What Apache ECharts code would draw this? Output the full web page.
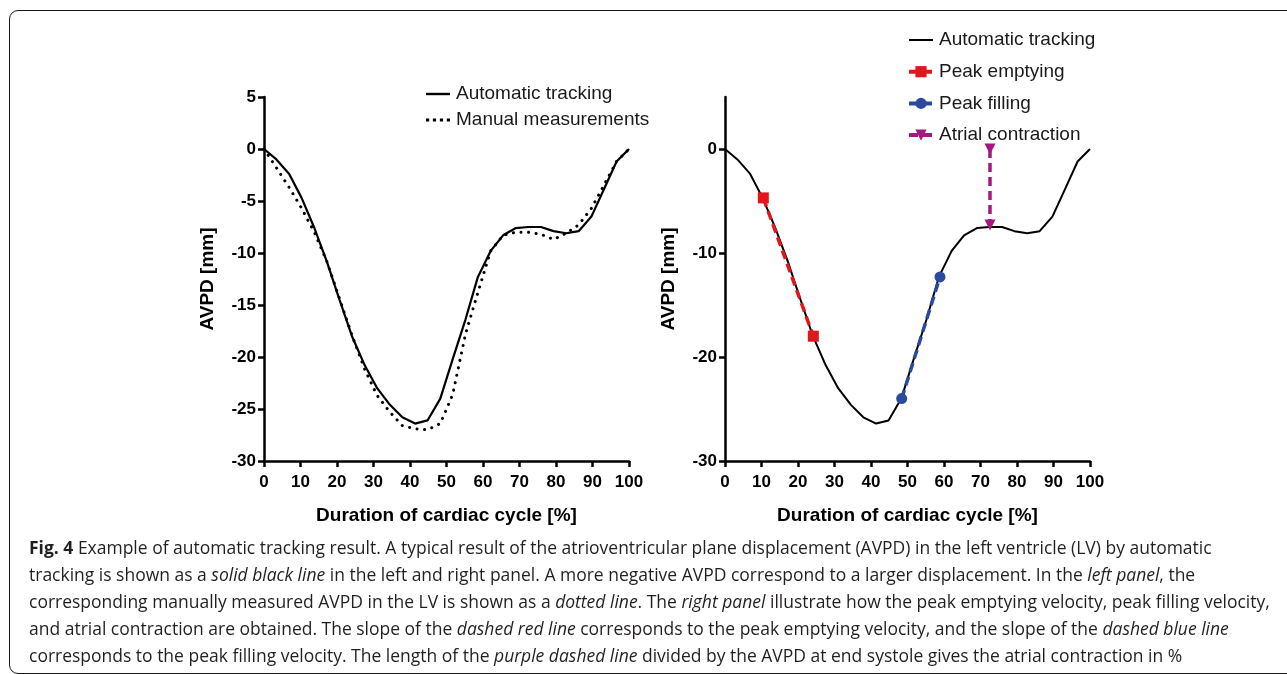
<!DOCTYPE html>
<html>
<head>
<meta charset="utf-8">
<script src="https://cdn.jsdelivr.net/npm/echarts@6/dist/echarts.min.js"></script>
<style>
  html, body { margin: 0; padding: 0; background: #fff; }
  #wrap { position: relative; width: 1287px; height: 674px; overflow: hidden; }
  #chart { position: absolute; left: 0; top: 0; width: 1287px; height: 674px; }
  #frame { position: absolute; left: 9px; top: 10px; width: 1400px; height: 664px;
           border: 1.5px solid #1a1a1a; border-radius: 9px; box-sizing: border-box; }
  #caption { position: absolute; left: 0; top: 0; }
  #caption text { font-family: "Open Sans", "Noto Sans", sans-serif; font-size: 16px; fill: #231f20; white-space: pre; }
</style>
</head>
<body>
<div id="wrap">
  <div id="frame"></div>
  <div id="chart"></div>
  <svg id="caption" width="1287" height="674">
    <text id="cap1" x="29" y="554"><tspan font-weight="bold">Fig. 4</tspan><tspan> Example of automatic tracking result. A typical result of the atrioventricular plane displacement (AVPD) in the left ventricle (LV) by automatic</tspan></text>
    <text x="29" y="581"><tspan>tracking is shown as a </tspan><tspan font-style="italic">solid black line</tspan><tspan> in the left and right panel. A more negative AVPD correspond to a larger displacement. In the </tspan><tspan font-style="italic">left panel</tspan><tspan>, the</tspan></text>
    <text x="29" y="608"><tspan>corresponding manually measured AVPD in the LV is shown as a </tspan><tspan font-style="italic">dotted line</tspan><tspan>. The </tspan><tspan font-style="italic">right panel</tspan><tspan> illustrate how the peak emptying velocity, peak filling velocity,</tspan></text>
    <text x="29" y="635"><tspan>and atrial contraction are obtained. The slope of the </tspan><tspan font-style="italic">dashed red line</tspan><tspan> corresponds to the peak emptying velocity, and the slope of the </tspan><tspan font-style="italic">dashed blue line</tspan></text>
    <text x="29" y="662"><tspan>corresponds to the peak filling velocity. The length of the </tspan><tspan font-style="italic">purple dashed line</tspan><tspan> divided by the AVPD at end systole gives the atrial contraction in %</tspan></text>
  </svg>
</div>
<script>
// ---- data ----
const frames = [0, 3.4, 6.9, 10.3, 13.8, 17.2, 20.7, 24.1, 27.6, 31.0, 34.5, 37.9, 41.4, 44.8, 48.3,
                51.7, 55.2, 58.6, 62.1, 65.5, 69.0, 72.4, 75.9, 79.3, 82.8, 86.2, 89.7, 93.1, 96.6, 100];
const autoTracking = [0, -1.0, -2.4, -4.7, -7.6, -10.8, -14.5, -18.0, -20.8, -23.0, -24.6, -25.8, -26.4, -26.1, -24.0,
                      -20.2, -16.4, -12.3, -9.8, -8.3, -7.6, -7.5, -7.5, -7.9, -8.1, -7.9, -6.5, -3.9, -1.2, 0];
const manualMeasurements = [0, -1.8, -3.7, -5.7, -8.0, -10.8, -14.4, -17.9, -21.2, -23.7, -25.3, -26.6, -26.9, -27.0, -26.4,
                            -23.6, -17.8, -13.8, -9.8, -8.3, -8.0, -8.0, -8.2, -8.7, -8.1, -7.3, -5.7, -3.5, -1.2, 0];
const peakEmptyingX = [10.5, 24.2];
const peakEmptyingY = [-4.7, -18.0];
const peakFillingX = [48.4, 58.9];
const peakFillingY = [-24.0, -12.3];
const atrialX = [72.6, 72.6];
const atrialY = [0, -7.3];
const xTicks = [0, 10, 20, 30, 40, 50, 60, 70, 80, 90, 100];
const leftYTicks = [-30, -25, -20, -15, -10, -5, 0, 5];
const rightYTicks = [-30, -20, -10, 0];

// ---- caption sizing: fit first line to the reference width ----
(function () {
  const t = document.getElementById('cap1');
  const w = t.getComputedTextLength();
  const size = 16 * 1183 / w;
  document.querySelectorAll('#caption text').forEach(el => { el.style.fontSize = size.toFixed(2) + 'px'; });
})();

const zip = (xs, ys) => xs.map((x, i) => [x, ys[i]]);

const FONT = '"Liberation Sans", Arial, Helvetica, sans-serif';
const RED = '#e3151d', BLUE = '#2b4a9c', PURPLE = '#a2197f';

function xAxisOpt(gridIndex) {
  return {
    type: 'value', gridIndex, min: 0, max: 100,
    name: 'Duration of cardiac cycle [%]', nameLocation: 'middle', nameGap: 45,
    nameTextStyle: { fontFamily: FONT, fontWeight: 'bold', fontSize: 19, color: '#000' },
    axisLine: { show: true, onZero: false, lineStyle: { color: '#000', width: 2.5 } },
    axisTick: { show: true, length: 6, lineStyle: { color: '#000', width: 2.5 }, customValues: xTicks },
    axisLabel: { fontFamily: FONT, fontWeight: 'bold', fontSize: 17, color: '#000', margin: 13, customValues: xTicks },
    splitLine: { show: false }
  };
}
function yAxisOpt(gridIndex, ticks) {
  return {
    type: 'value', gridIndex, min: -30, max: 5,
    name: 'AVPD [mm]', nameLocation: 'middle', nameGap: 47, nameRotate: 90,
    nameTextStyle: { fontFamily: FONT, fontWeight: 'bold', fontSize: 19, color: '#000' },
    axisLine: { show: true, onZero: false, lineStyle: { color: '#000', width: 2.5 } },
    axisTick: { show: true, length: 6, lineStyle: { color: '#000', width: 2.5 }, customValues: ticks },
    axisLabel: { fontFamily: FONT, fontWeight: 'bold', fontSize: 17, color: '#000', margin: 8, customValues: ticks },
    splitLine: { show: false }
  };
}

const legendText = { fontFamily: FONT, fontSize: 19, color: '#1a1a1a', lineHeight: 22, padding: [0, 0, 0, 1] };
const SOLID_ICON = 'path://M0,0h24v2.4h-24z';
const THIN_ICON = 'path://M0,0h24v2h-24z';
const DOT_ICON = 'path://M0,0h3.2v3.2h-3.2z M6.9,0h3.2v3.2h-3.2z M13.9,0h3.2v3.2h-3.2z M20.8,0h3.2v3.2h-3.2z';

const option = {
  animation: false,
  backgroundColor: 'transparent',
  grid: [
    { left: 264, top: 97, width: 365, height: 364 },
    { left: 725, top: 97, width: 365, height: 364 }
  ],
  xAxis: [xAxisOpt(0), xAxisOpt(1)],
  yAxis: [yAxisOpt(0, leftYTicks), yAxisOpt(1, rightYTicks)],
  legend: [
    { orient: 'vertical', left: 421, top: 78, itemWidth: 24, itemHeight: 14, itemGap: 4,
      textStyle: legendText,
      data: [{ name: 'Automatic tracking', icon: SOLID_ICON }, { name: 'Manual measurements', icon: DOT_ICON }] },
    { orient: 'vertical', left: 902, top: 24, itemWidth: 24, itemHeight: 14, itemGap: 9.7,
      textStyle: legendText, lineStyle: { width: 4 },
      data: [{ name: 'Automatic tracking ', icon: THIN_ICON }, 'Peak emptying', 'Peak filling', 'Atrial contraction'] }
  ],
  series: [
    { name: 'Automatic tracking', type: 'line', xAxisIndex: 0, yAxisIndex: 0,
      data: zip(frames, autoTracking), symbol: 'none', showSymbol: false,
      lineStyle: { color: '#000', width: 2.2 }, itemStyle: { color: '#000' } },
    { name: 'Manual measurements', type: 'line', xAxisIndex: 0, yAxisIndex: 0,
      data: zip(frames, manualMeasurements), symbol: 'none', showSymbol: false,
      lineStyle: { color: '#000', width: 3, type: [0.1, 7.5], cap: 'round' }, itemStyle: { color: '#000' } },
    { name: 'Automatic tracking ', type: 'line', xAxisIndex: 1, yAxisIndex: 1,
      data: zip(frames, autoTracking), symbol: 'none', showSymbol: false, z: 2,
      lineStyle: { color: '#000', width: 2 }, itemStyle: { color: '#000' } },
    { name: 'Peak emptying', type: 'line', xAxisIndex: 1, yAxisIndex: 1, z: 3,
      data: zip(peakEmptyingX, peakEmptyingY), symbol: 'rect', symbolSize: 11,
      lineStyle: { color: RED, width: 3.5, type: [9, 5] }, itemStyle: { color: RED } },
    { name: 'Peak filling', type: 'line', xAxisIndex: 1, yAxisIndex: 1, z: 3,
      data: zip(peakFillingX, peakFillingY), symbol: 'circle', symbolSize: 11,
      lineStyle: { color: BLUE, width: 3.5, type: [9, 5] }, itemStyle: { color: BLUE } },
    { name: 'Atrial contraction', type: 'line', xAxisIndex: 1, yAxisIndex: 1, z: 3,
      data: zip(atrialX, atrialY), symbol: 'path://M0,0 L10,0 L5,10 Z', symbolSize: [11, 11],
      lineStyle: { color: PURPLE, width: 3.5, type: [9, 5] }, itemStyle: { color: PURPLE } }
  ]
};

const chart = echarts.init(document.getElementById('chart'), null, { renderer: 'canvas' });
chart.setOption(option);
</script>
</body>
</html>
